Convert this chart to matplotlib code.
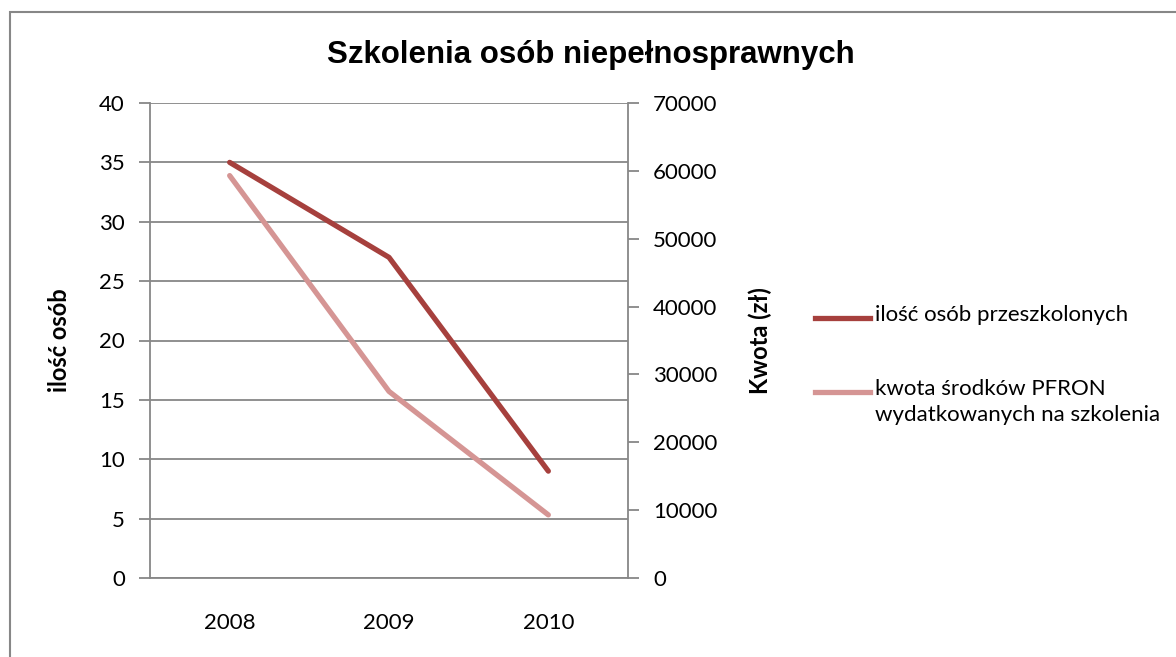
import matplotlib.pyplot as plt
from matplotlib.lines import Line2D
from matplotlib.patches import Rectangle

# dane
years = ['2008', '2009', '2010']
osoby = [35, 27, 9]
kwota = [59300, 27500, 9300]

labels = ['ilość osób przeszkolonych', 'kwota środków PFRON\nwydatkowanych na szkolenia']
c_dark = '#A6403D'
c_light = '#D59594'
grey = '#878787'

plt.rcParams['font.family'] = ['Lato', 'DejaVu Sans']

fig = plt.figure(figsize=(11.76, 6.57), dpi=100)
W, H = 1176, 657

# ramka wykresu
fig.patches.append(Rectangle((10 / W, -0.1), 1.2, 1 - 12 / H + 0.1, transform=fig.transFigure,
                             fill=False, edgecolor=grey, linewidth=1.5))

ax = fig.add_axes([150 / W, 1 - 578 / H, (628 - 150) / W, (578 - 103) / H])
ax2 = ax.twinx()

x = range(len(years))
ax.plot(x, osoby, color=c_dark, linewidth=3.8, solid_capstyle='round', zorder=3)
ax2.plot(x, kwota, color=c_light, linewidth=3.8, solid_capstyle='round', zorder=3)

ax.set_xlim(-0.5, 2.5)
ax.set_ylim(0, 40)
ax.set_yticks(range(0, 41, 5))
ax2.set_ylim(0, 70000)
ax2.set_yticks(range(0, 70001, 10000))
ax.set_xticks(list(x))
ax.set_xticklabels(years)

ax.grid(axis='y', color=grey, linewidth=1.3)
ax.set_axisbelow(True)
for a in (ax, ax2):
    for s in a.spines.values():
        s.set_visible(False)
ax.spines['left'].set_visible(True)
ax.spines['left'].set_color(grey)
ax.spines['left'].set_linewidth(1.3)
ax.spines['bottom'].set_visible(True)
ax.spines['bottom'].set_color(grey)
ax.spines['bottom'].set_linewidth(1.3)
ax2.spines['right'].set_visible(True)
ax2.spines['right'].set_color(grey)
ax2.spines['right'].set_linewidth(1.3)

ax.tick_params(axis='y', length=8, width=1.3, color=grey, labelsize=16, pad=10)
ax.tick_params(axis='x', length=0, labelsize=16, pad=25)
ax2.tick_params(axis='y', length=8, width=1.3, color=grey, labelsize=16, pad=10)

ax.set_ylabel('ilość osób', fontsize=17, fontweight='bold', labelpad=20)
ax2.set_ylabel('Kwota (zł)', fontsize=17, fontweight='bold', labelpad=22)

fig.text(591 / W, 1 - 55 / H, 'Szkolenia osób niepełnosprawnych', ha='center', va='center',
         fontsize=22.5, fontweight='bold', family=['Liberation Sans', 'DejaVu Sans'])

# legenda
for lab, col, yy in zip(labels, [c_dark, c_light], [318, 392]):
    fig.add_artist(Line2D([815 / W, 870 / W], [1 - yy / H, 1 - yy / H], transform=fig.transFigure,
                          color=col, linewidth=3.8))
    fig.text(875 / W, 1 - (yy - 13) / H, lab, ha='left', va='top', fontsize=16, linespacing=1.35)

fig.savefig('out.png', dpi=100)
